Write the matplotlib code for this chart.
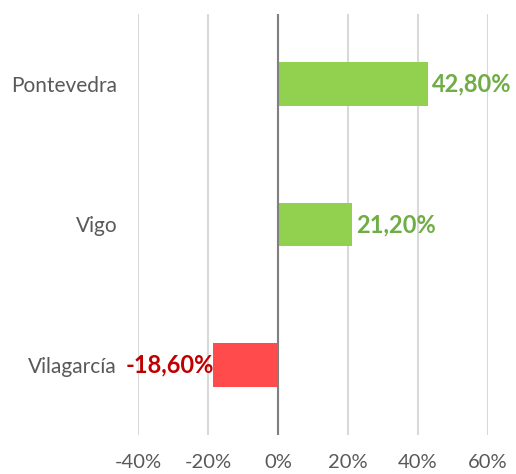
import matplotlib
matplotlib.use("Agg")
import matplotlib.pyplot as plt
from matplotlib.ticker import FuncFormatter

categories = ["Pontevedra", "Vigo", "Vilagarcía"]
values = [42.8, 21.2, -18.6]
value_labels = ["42,80%", "21,20%", "-18,60%"]
xticks = [-40, -20, 0, 20, 40, 60]

plt.rcParams["font.family"] = ["Lato", "DejaVu Sans"]

fig = plt.figure(figsize=(5.16, 4.74), dpi=100)
ax = fig.add_axes([138 / 516, 1 - 435 / 474, 350 / 516, 421 / 474])

pos_color, neg_color = "#92D050", "#FF4B4B"
pos_text, neg_text = "#70AD47", "#C00000"

ypos = list(range(len(categories)))
colors = [pos_color if v >= 0 else neg_color for v in values]
ax.barh(ypos, values, height=0.31, color=colors, zorder=2)

for y, v, lab in zip(ypos, values, value_labels):
    if v >= 0:
        ax.annotate(lab, (v, y), xytext=(3, 0), textcoords="offset points",
                    ha="left", va="center", fontsize=17, fontweight="bold",
                    color=pos_text, zorder=3)
    else:
        ax.annotate(lab, (v, y), xytext=(1, 0), textcoords="offset points",
                    ha="right", va="center", fontsize=17, fontweight="bold",
                    color=neg_text, zorder=3)

ax.set_xlim(-40, 60)
ax.set_ylim(2.5, -0.5)
ax.set_xticks(xticks)
ax.xaxis.set_major_formatter(FuncFormatter(lambda x, p: f"{x:.0f}%"))
ax.set_yticks(ypos)
ax.set_yticklabels(categories)
ax.tick_params(axis="y", labelsize=15)
ax.grid(axis="x", color="#D9D9D9", linewidth=1.5, zorder=0)
ax.axvline(0, color="#808080", linewidth=1.5, zorder=3)

for s in ax.spines.values():
    s.set_visible(False)
ax.tick_params(axis="both", length=0, colors="#595959")
ax.tick_params(axis="x", labelsize=14.5, pad=14)
ax.tick_params(axis="y", labelsize=15, pad=15)

fig.savefig("out.png", dpi=100)
